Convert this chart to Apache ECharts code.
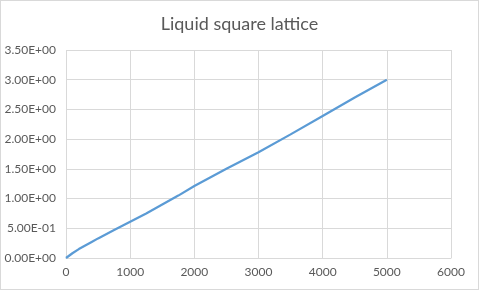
<!DOCTYPE html>
<html>
<head>
<meta charset="utf-8">
<script src="https://cdn.jsdelivr.net/npm/echarts@6/dist/echarts.min.js"></script>
<style>
html,body{margin:0;padding:0;background:#fff;}
#c{width:479px;height:290px;box-sizing:border-box;border:1px solid #d9d9d9;}
</style>
</head>
<body>
<div id="c"></div>
<script>
const title = "Liquid square lattice";
const xValues = [0,100,200,300,400,500,750,1000,1250,1500,1750,2000,2500,3000,3500,4000,4500,5000];
const yValues = [0,0.08,0.15,0.21,0.27,0.33,0.47,0.61,0.75,0.90,1.05,1.21,1.50,1.78,2.08,2.39,2.70,3.00];
const xTicks = [0,1000,2000,3000,4000,5000,6000];
const yTicks = [0,0.5,1.0,1.5,2.0,2.5,3.0,3.5];

function sci(v){
  if (v === 0) return "0.00E+00";
  const e = Math.floor(Math.log10(Math.abs(v)) + 1e-9);
  const m = v / Math.pow(10, e);
  const s = e < 0 ? "-" : "+";
  const ae = Math.abs(e);
  return m.toFixed(2) + "E" + s + (ae < 10 ? "0" + ae : ae);
}

const chart = echarts.init(document.getElementById('c'), null, {renderer:'canvas'});
chart.setOption({
  animation:false,
  title:{text:title,left:'center',top:9,textStyle:{fontFamily:'Lato',fontSize:18,fontWeight:'normal',color:'#595959'}},
  grid:{left:65,right:27,top:49,bottom:31},
  xAxis:{type:'value',min:xTicks[0],max:xTicks[xTicks.length-1],interval:1000,
    axisLine:{show:true,lineStyle:{color:'#d9d9d9'}},axisTick:{show:false},
    splitLine:{show:true,lineStyle:{color:'#d9d9d9',width:1}},
    axisLabel:{color:'#595959',fontFamily:'Lato',fontSize:12,margin:8,formatter:v=>String(v)}},
  yAxis:{type:'value',min:yTicks[0],max:yTicks[yTicks.length-1],interval:0.5,
    axisLine:{show:false},axisTick:{show:false},
    splitLine:{show:true,lineStyle:{color:'#d9d9d9',width:1}},
    axisLabel:{color:'#595959',fontFamily:'Lato',fontSize:12,margin:10,formatter:sci}},
  series:[{type:'line',data:xValues.map((x,i)=>[x,yValues[i]]),showSymbol:false,
    lineStyle:{color:'#5b9bd5',width:2.25},itemStyle:{color:'#5b9bd5'}}]
});
</script>
</body>
</html>
